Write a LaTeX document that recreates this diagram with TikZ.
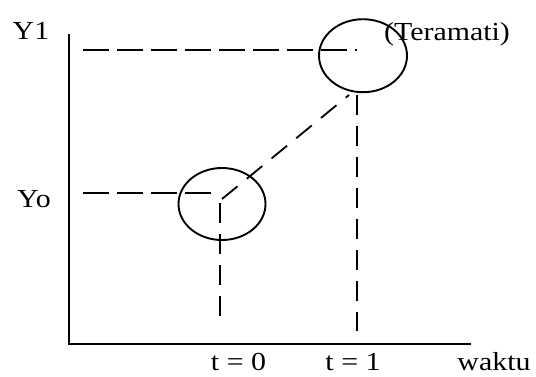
\documentclass[tikz,border=0pt]{standalone}
\usepackage{fontspec}
\setmainfont{Liberation Serif}[FakeStretch=1.15]
\usetikzlibrary{shapes.geometric}
\begin{document}
\begin{tikzpicture}[x=1pt,y=-1pt,
  lbl/.style={inner sep=0pt,anchor=base,font=\fontsize{26}{30}\selectfont},
  axisline/.style={line width=2pt},
  dashh/.style={line width=1.8pt,dash pattern=on 26pt off 8pt},
  dashv/.style={line width=1.8pt,dash pattern=on 20pt off 11pt},
  dashd/.style={line width=1.8pt,dash pattern=on 20pt off 12pt},
  ring/.style={draw,ellipse,line width=1.9pt,inner sep=0pt}]
\useasboundingbox (0,0) rectangle (536,376);
\fill[white] (0,0) rectangle (536,376);
% axes
\coordinate (O) at (69,344);
\coordinate (ytop) at (69,34);
\coordinate (xend) at (471,344);
\draw[axisline] (ytop) -- (O) -- (xend);
% ellipses
\node[ring,minimum width=88pt,minimum height=73pt] (e1) at (363,55.7) {};
\node[ring,minimum width=87pt,minimum height=72pt] (e0) at (222,204) {};
% points
\coordinate (y1s) at (83,50);
\coordinate (y1e) at (357,50);
\coordinate (y0s) at (83,193);
\coordinate (y0e) at (218,193);
\coordinate (d0) at (222,199);
\coordinate (d1) at (349,95);
\coordinate (v0s) at (220,203);
\coordinate (v0e) at (220,326);
\coordinate (v1s) at (357,95);
\coordinate (v1e) at (357,331);
\draw[dashh] (y1s) -- (y1e);
\draw[dashh] (y0s) -- (y0e);
\draw[dashd] (d0) -- (d1);
\draw[dashv] (v0s) -- (v0e);
\draw[dashv] (v1s) -- (v1e);
% labels
\node[lbl] (ly1) at (31,39.5) {Y1};
\node[lbl] (ly0) at (34,207) {Yo};
\node[lbl] (lter) at (447,40) {(Teramati)};
\node[lbl] (lt0) at (238.5,370.5) {t = 0};
\node[lbl] (lt1) at (353,370.5) {t = 1};
\node[lbl] (lw) at (494,370.5) {waktu};
\end{tikzpicture}
\end{document}
